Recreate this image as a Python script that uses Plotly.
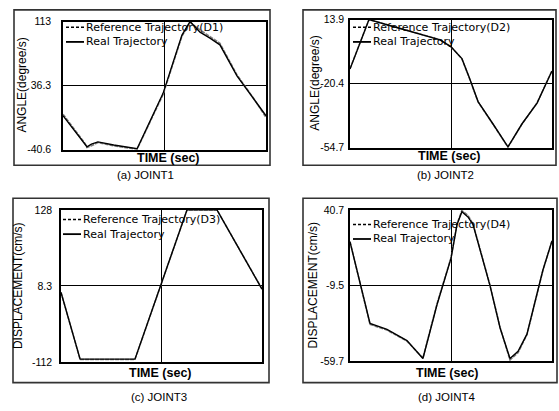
import plotly.graph_objects as go

# ---------------- data ----------------
A_t = [0, 5, 10.8, 11.8, 14, 17.2, 25, 36.5, 49.3, 58.6, 62.6, 67.5, 72.4, 77.3, 85.7, 93.6, 100]
A_real = [0.1, -16, -34.8, -37.1, -34, -31.3, -35, -39.4, 26.9, 96.7, 113, 100.2, 93.2, 85.1, 47.8, 21.1, 0.1]
A_ref = [2, -14, -33, -38, -36, -32, -36, -40, 25.5, 95.5, 112, 103, 95.5, 87, 49, 22, -2]
A_ticks = [-40.6, 36.3, 113]
A_ticklabels = ["-40.6", "36.3", "113"]

B_t = [0, 9.4, 20, 31.2, 40, 44.6, 50, 55.4, 59, 63.4, 70.8, 78.2, 85.1, 92.6, 100]
B_real = [-12.6, 13.9, 10.6, 7.1, 4.5, 3.0, -0.7, -7, -17, -30, -42, -54.2, -42, -30.8, -13.6]
B_ref = [-12.4, 13.9, 10.7, 7.2, 4.6, 3.1, -0.6, -7.1, -17.2, -30.2, -42.1, -54.4, -42.1, -30.7, -13.4]
B_ticks = [-54.7, -20.4, 13.9]
B_ticklabels = ["-54.7", "-20.4", "13.9"]

C_t = [0, 9.5, 36.8, 49.8, 62.7, 77.6, 100]
C_real = [-2, -107, -107, 10, 128, 128, 3]
C_ref = [-1.5, -107.5, -107.5, 10.5, 128, 128, 3.5]
C_ticks = [-112, 8.3, 128]
C_ticklabels = ["-112", "8.3", "128"]

D_t = [0, 9.9, 18.3, 28.2, 36.1, 43.1, 50, 53, 55.4, 58.4, 60.9, 65, 69.3, 74.3, 79.2, 83.2, 87.6, 95.5, 100]
D_real = [19.5, -34.6, -38.5, -46, -57.8, -22, 8.5, 31, 39.5, 36, 31, 11.7, -9.5, -37.6, -57.8, -53, -41.7, 0.8, 20.1]
D_ref = [19.7, -35.2, -39, -46.3, -57.5, -21.5, 9, 31.5, 40.3, 37, 31.5, 12, -9.2, -37.2, -58.8, -54, -42, 0.5, 20.3]
D_ticks = [-59.7, -9.5, 40.7]
D_ticklabels = ["-59.7", "-9.5", "40.7"]

W, H = 559, 411


def P(x):
    return x / W


def Q(y):
    return 1 - y / H


panels = [
    dict(t=A_t, real=A_real, ref=A_ref, ticks=A_ticks, labels=A_ticklabels,
         dx=(63, 266), dy=(16, 148), box=(14, 4, 270, 164), stand=8,
         ytitle="ANGLE(degree/s)", ytx=22, tag="(D1)", cap="(a) JOINT1",
         timex=168, timey=157, capx=145, capy=174, legx=66, legy=(22, 37)),
    dict(t=B_t, real=B_real, ref=B_ref, ticks=B_ticks, labels=B_ticklabels,
         dx=(350, 552), dy=(14, 146), box=(303, 4, 556, 164), stand=2,
         ytitle="ANGLE(degree/s)", ytx=315, tag="(D2)", cap="(b) JOINT2",
         timex=449, timey=155, capx=445, capy=174, legx=353, legy=(22, 37)),
    dict(t=C_t, real=C_real, ref=C_ref, ticks=C_ticks, labels=C_ticklabels,
         dx=(61, 262), dy=(210, 367), box=(13, 198, 269, 388), stand=5,
         ytitle="DISPLACEMENT(cm/s)", ytx=18, tag="(D3)", cap="(c) JOINT3",
         timex=160, timey=378, capx=159, capy=403, legx=63, legy=(220, 235)),
    dict(t=D_t, real=D_real, ref=D_ref, ticks=D_ticks, labels=D_ticklabels,
         dx=(350, 552), dy=(210, 366), box=(303, 198, 557, 388), stand=2,
         ytitle="DISPLACEMENT(cm/s)", ytx=313, tag="(D4)", cap="(d) JOINT4",
         timex=447, timey=378, capx=446, capy=403, legx=353, legy=(225, 240)),
]

fig = go.Figure()
shapes = []
annotations = []
layout = {}
for i, p in enumerate(panels):
    n = "" if i == 0 else str(i + 1)
    xa, ya = "x" + n, "y" + n
    fig.add_trace(go.Scatter(x=p["t"], y=p["ref"], mode="lines", xaxis=xa, yaxis=ya,
                             line=dict(color="#808080", width=1.6, dash="4px,1px"),
                             name="Reference Trajectory", showlegend=False))
    fig.add_trace(go.Scatter(x=p["t"], y=p["real"], mode="lines", xaxis=xa, yaxis=ya,
                             line=dict(color="black", width=1.4),
                             name="Real Trajectory", showlegend=False))
    lo, hi = p["ticks"][0], p["ticks"][-1]
    layout["xaxis" + n] = dict(domain=[P(p["dx"][0]), P(p["dx"][1])], anchor=ya,
                               range=[0, 100], tickvals=[50], showticklabels=False,
                               showgrid=True, gridcolor="black", gridwidth=1.2,
                               showline=True, mirror=True, linecolor="black", linewidth=1.5,
                               zeroline=False, ticks="", fixedrange=True)
    layout["yaxis" + n] = dict(domain=[Q(p["dy"][1]), Q(p["dy"][0])], anchor=xa,
                               range=[lo, hi], tickvals=p["ticks"], ticktext=p["labels"],
                               showgrid=True, gridcolor="black", gridwidth=1.2,
                               showline=True, mirror=True, linecolor="black", linewidth=1.5,
                               zeroline=False, ticks="", ticklabelstandoff=p["stand"],
                               tickfont=dict(family="Liberation Sans", size=10.5, color="black"),
                               fixedrange=True)
    x0, y0, x1, y1 = p["box"]
    shapes.append(dict(type="rect", xref="paper", yref="paper", x0=P(x0), x1=P(x1),
                       y0=Q(y1), y1=Q(y0), line=dict(color="#333333", width=1.6)))
    # legend samples
    lx = p["legx"]
    shapes.append(dict(type="line", xref="paper", yref="paper", x0=P(lx), x1=P(lx + 18),
                       y0=Q(p["legy"][0]), y1=Q(p["legy"][0]),
                       line=dict(color="black", width=1.5, dash="3px,2px")))
    shapes.append(dict(type="line", xref="paper", yref="paper", x0=P(lx), x1=P(lx + 18),
                       y0=Q(p["legy"][1]), y1=Q(p["legy"][1]),
                       line=dict(color="black", width=1.8)))
    lf = dict(family="DejaVu Sans", size=11, color="black")
    annotations.append(dict(xref="paper", yref="paper", x=P(lx + 19), y=Q(p["legy"][0]),
                            text="Reference Trajectory" + p["tag"], showarrow=False,
                            xanchor="left", yanchor="middle", font=lf, borderpad=0))
    annotations.append(dict(xref="paper", yref="paper", x=P(lx + 19), y=Q(p["legy"][1]),
                            text="Real Trajectory", showarrow=False,
                            xanchor="left", yanchor="middle", font=lf, borderpad=0))
    # axis title, time label, caption
    annotations.append(dict(xref="paper", yref="paper", x=P(p["ytx"]),
                            y=Q((p["dy"][0] + p["dy"][1]) / 2), text=p["ytitle"],
                            textangle=-90, showarrow=False, xanchor="center", yanchor="middle",
                            font=dict(family="Liberation Sans", size=12, color="black")))
    annotations.append(dict(xref="paper", yref="paper", x=P(p["timex"]), y=Q(p["timey"]),
                            text="<b>TIME (sec)</b>", showarrow=False,
                            xanchor="center", yanchor="middle",
                            font=dict(family="Liberation Sans", size=12.5, color="black")))
    annotations.append(dict(xref="paper", yref="paper", x=P(p["capx"]), y=Q(p["capy"]),
                            text=p["cap"], showarrow=False, xanchor="center", yanchor="middle",
                            font=dict(family="Liberation Sans", size=11.5, color="black")))

fig.update_layout(width=W, height=H, margin=dict(l=0, r=0, t=0, b=0),
                  paper_bgcolor="white", plot_bgcolor="white",
                  shapes=shapes, annotations=annotations, showlegend=False, **layout)
fig.write_html("out.html", config={"displayModeBar": False},
               post_script="document.body.style.margin='0px';document.body.style.overflow='hidden';")
